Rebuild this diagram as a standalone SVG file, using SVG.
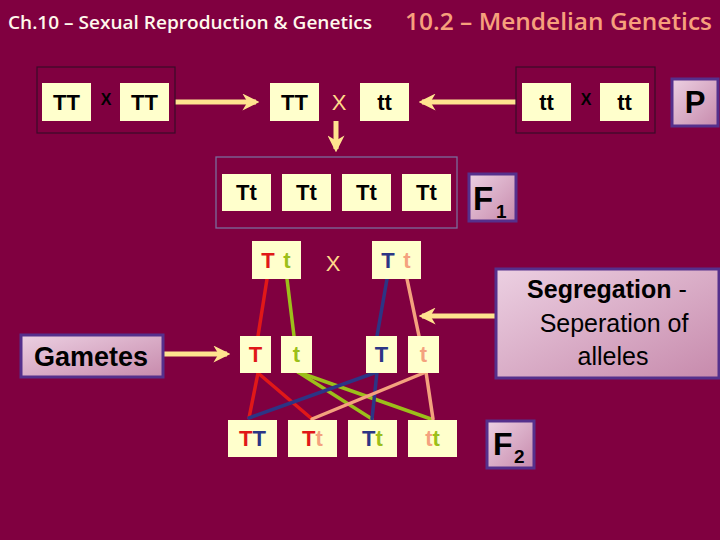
<svg xmlns="http://www.w3.org/2000/svg" width="720" height="540" viewBox="0 0 720 540">
<defs>
<linearGradient id="pink" x1="0" y1="0" x2="1" y2="1">
<stop offset="0" stop-color="#ecd0e2"/>
<stop offset="1" stop-color="#c78aac"/>
</linearGradient>
<marker id="ah" viewBox="0 0 10 10" refX="8" refY="5" markerWidth="3.4" markerHeight="3.4" orient="auto" markerUnits="strokeWidth">
<path d="M0,0 L10,5 L0,10 L3,5 Z" fill="#ffe38f"/>
</marker>
<style>
.box{fill:#ffffcc}
.lbl{fill:url(#pink);stroke:#55308c;stroke-width:3}
.grp{fill:none;stroke:#3a0a28;stroke-width:1.2}
.t{font-family:"Liberation Sans",Arial,sans-serif;font-weight:bold;font-size:22px;text-anchor:middle;fill:#000}
.arr{stroke:#ffe38f;stroke-width:5;fill:none;marker-end:url(#ah)}
.ln{stroke-width:3.5;fill:none;stroke-linecap:round}
.red{fill:#e01818}.grn{fill:#9cbf1a}.blu{fill:#2c3585}.sal{fill:#f4a27e}
</style>
</defs>
<rect width="720" height="540" fill="#800040"/>
<text x="8" y="29" font-family="'Open Sans',sans-serif" font-weight="600" font-size="18" fill="#fff8ec" textLength="364" lengthAdjust="spacingAndGlyphs">Ch.10 – Sexual Reproduction &amp; Genetics</text>
<text x="405" y="30" font-family="'Open Sans',sans-serif" font-weight="600" font-size="24" fill="#f7a07c" textLength="307" lengthAdjust="spacingAndGlyphs">10.2 – Mendelian Genetics</text>

<g id="connectors">
<line class="arr" x1="175" y1="102" x2="256" y2="102"/>
<line class="arr" x1="516" y1="102" x2="422" y2="102"/>
<line class="arr" x1="336" y1="121" x2="336" y2="149"/>
<line class="arr" x1="163" y1="354" x2="227" y2="354"/>
<line class="arr" x1="495" y1="316" x2="422" y2="316"/>
<line class="ln" stroke="#e01818" x1="267" y1="279" x2="258" y2="336"/>
<line class="ln" stroke="#9cbf1a" x1="287" y1="279" x2="294" y2="336"/>
<line class="ln" stroke="#2c3585" x1="387" y1="279" x2="377" y2="336"/>
<line class="ln" stroke="#f4a27e" x1="407" y1="279" x2="419" y2="336"/>
<line class="ln" stroke="#e01818" x1="258" y1="373" x2="249" y2="418"/>
<line class="ln" stroke="#e01818" x1="258" y1="373" x2="312" y2="419"/>
<line class="ln" stroke="#9cbf1a" x1="298" y1="372" x2="372" y2="419"/>
<line class="ln" stroke="#9cbf1a" x1="298" y1="372" x2="431" y2="419"/>
<line class="ln" stroke="#2c3585" x1="377" y1="372" x2="249" y2="418"/>
<line class="ln" stroke="#2c3585" x1="377" y1="372" x2="372" y2="419"/>
<line class="ln" stroke="#f4a27e" x1="426" y1="372" x2="312" y2="419"/>
<line class="ln" stroke="#f4a27e" x1="426" y1="372" x2="433" y2="419"/>
</g>

<g id="parentLeft">
<rect class="grp" x="37" y="67" width="138" height="66"/>
<rect class="box" x="42" y="83" width="49" height="38"/>
<text class="t" x="66.5" y="110">TT</text>
<text class="t" x="106" y="105" style="font-size:16px">X</text>
<rect class="box" x="120" y="83" width="49" height="38"/>
<text class="t" x="144.5" y="110">TT</text>
</g>

<g id="parentCross">
<rect class="box" x="270" y="83" width="49" height="38"/>
<text class="t" x="294.5" y="110">TT</text>
<text x="339" y="110" font-family="'Liberation Sans',Arial,sans-serif" font-size="22" fill="#ffd98a" text-anchor="middle">X</text>
<rect class="box" x="360" y="83" width="49" height="38"/>
<text class="t" x="384.5" y="110">tt</text>
</g>

<g id="parentRight">
<rect class="grp" x="516" y="67" width="139" height="66"/>
<rect class="box" x="522" y="83" width="49" height="38"/>
<text class="t" x="546.5" y="110">tt</text>
<text class="t" x="586" y="105" style="font-size:16px">X</text>
<rect class="box" x="600" y="83" width="49" height="38"/>
<text class="t" x="624.5" y="110">tt</text>
</g>

<g id="labelP">
<rect class="lbl" x="672" y="79" width="46" height="47"/>
<text class="t" x="695" y="113" style="font-size:31px">P</text>
</g>

<g id="f1">
<rect x="216" y="157" width="241" height="71" fill="none" stroke="#7a6a9c" stroke-width="1.3"/>
<rect class="box" x="222" y="174" width="49" height="37"/>
<text class="t" x="246.5" y="200">Tt</text>
<rect class="box" x="282" y="174" width="49" height="37"/>
<text class="t" x="306.5" y="200">Tt</text>
<rect class="box" x="342" y="174" width="49" height="37"/>
<text class="t" x="366.5" y="200">Tt</text>
<rect class="box" x="402" y="174" width="49" height="37"/>
<text class="t" x="426.5" y="200">Tt</text>
</g>

<g id="labelF1">
<rect class="lbl" x="469" y="174" width="47" height="47"/>
<text class="t" x="473" y="210" style="font-size:33px;text-anchor:start">F</text>
<text class="t" x="496" y="218" style="font-size:19px;text-anchor:start">1</text>
</g>

<g id="f1cross">
<rect class="box" x="252" y="241" width="49" height="38"/>
<text class="t red" x="268" y="268">T</text>
<text class="t grn" x="287" y="268">t</text>
<text x="333" y="271" font-family="'Liberation Sans',Arial,sans-serif" font-size="22" fill="#ffd98a" text-anchor="middle">X</text>
<rect class="box" x="372" y="241" width="49" height="38"/>
<text class="t blu" x="388" y="268">T</text>
<text class="t sal" x="407" y="268">t</text>
</g>

<g id="labelGametes">
<rect class="lbl" x="21" y="335" width="142" height="42"/>
<text class="t" x="91" y="366" style="font-size:27px">Gametes</text>
</g>

<g id="gametes">
<rect class="box" x="240" y="336" width="31" height="37"/>
<text class="t red" x="255.5" y="362">T</text>
<rect class="box" x="281" y="336" width="31" height="37"/>
<text class="t grn" x="296.5" y="362">t</text>
<rect class="box" x="366" y="336" width="31" height="37"/>
<text class="t blu" x="381.5" y="362">T</text>
<rect class="box" x="408" y="336" width="31" height="37"/>
<text class="t sal" x="423.5" y="362">t</text>
</g>

<g id="labelSegregation">
<rect class="lbl" x="496" y="269" width="223" height="109"/>
<text x="607" y="298" font-family="'Liberation Sans',Arial,sans-serif" font-size="25" text-anchor="middle" fill="#000"><tspan font-weight="bold">Segregation</tspan> -</text>
<text x="614" y="332" font-family="'Liberation Sans',Arial,sans-serif" font-size="25" text-anchor="middle" fill="#000">Seperation of</text>
<text x="613" y="365" font-family="'Liberation Sans',Arial,sans-serif" font-size="25" text-anchor="middle" fill="#000">alleles</text>
</g>

<g id="f2">
<rect class="box" x="228" y="420" width="49" height="37"/>
<text class="t" x="252.5" y="446"><tspan class="red">T</tspan><tspan class="blu">T</tspan></text>
<rect class="box" x="288" y="420" width="49" height="37"/>
<text class="t" x="312.5" y="446"><tspan class="red">T</tspan><tspan class="sal">t</tspan></text>
<rect class="box" x="348" y="420" width="49" height="37"/>
<text class="t" x="372.5" y="446"><tspan class="blu">T</tspan><tspan class="grn">t</tspan></text>
<rect class="box" x="408" y="420" width="49" height="37"/>
<text class="t" x="432.5" y="446"><tspan class="sal">t</tspan><tspan class="grn">t</tspan></text>
</g>

<g id="labelF2">
<rect class="lbl" x="487" y="421" width="47" height="47"/>
<text class="t" x="493" y="455" style="font-size:32px;text-anchor:start">F</text>
<text class="t" x="514" y="463" style="font-size:19px;text-anchor:start">2</text>
</g>
</svg>
